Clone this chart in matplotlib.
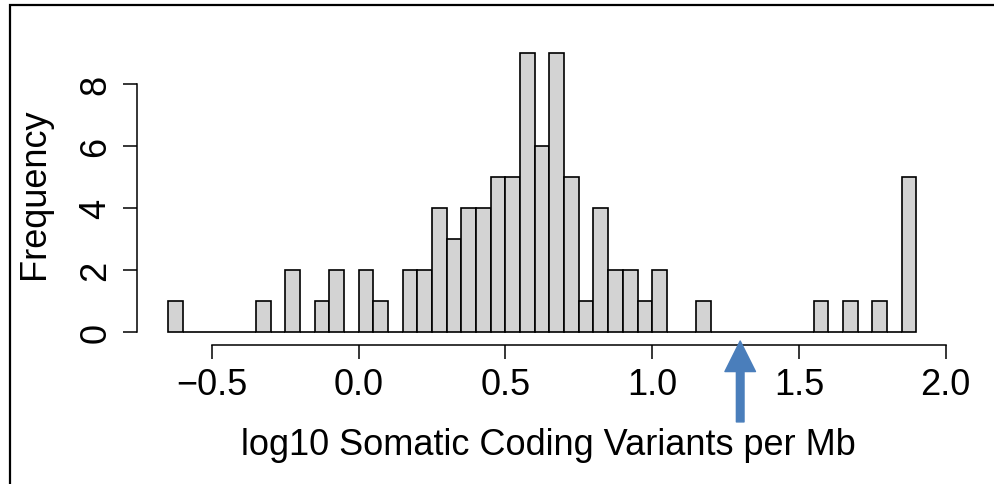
import matplotlib.pyplot as plt
from matplotlib.patches import Rectangle
import numpy as np

plt.rcParams.update({
    "font.family": ["Liberation Sans", "DejaVu Sans"],
    "font.size": 26,
})

# histogram bins (width 0.05) and counts
bin_start = -0.65
bin_width = 0.05
counts = [1, 0, 0, 0, 0, 0, 1, 0, 2, 0,
          1, 2, 0, 2, 1, 0, 2, 2, 4, 3,
          4, 4, 5, 5, 9, 6, 9, 5, 1, 4,
          2, 2, 1, 2, 0, 0, 1, 0, 0, 0,
          0, 0, 0, 0, 1, 0, 1, 0, 1, 0,
          5]
edges = bin_start + bin_width * np.arange(len(counts) + 1)

xticks = [-0.5, 0.0, 0.5, 1.0, 1.5, 2.0]
yticks = [0, 2, 4, 6, 8]
marker_x = 1.30

W, H = 994, 485
fig = plt.figure(figsize=(W / 100, H / 100), dpi=100)

# outer frame
fig.patches.append(Rectangle((10 / W, -0.05), 1.1, 1 - 6 / H + 0.05,
                             transform=fig.transFigure, fill=False,
                             edgecolor="black", linewidth=1.6))

ax = fig.add_axes([137 / W, (H - 346) / H, (960 - 137) / W, (346 - 85) / H])
bars = ax.bar(edges[:-1], counts, width=bin_width, align="edge",
              color="#d3d3d3", edgecolor="black", linewidth=1.2)
for b in bars:
    b.set_clip_on(False)

ax.set_xlim(-0.7556, 2.049)
ax.set_ylim(-0.419, 8)
for s in ["top", "right"]:
    ax.spines[s].set_visible(False)
ax.spines["left"].set_bounds(0, 8)
ax.spines["bottom"].set_bounds(-0.5, 2.0)
for s in ["left", "bottom"]:
    ax.spines[s].set_linewidth(1.1)

ax.set_xticks(xticks)
ax.set_xticklabels([f"{t:.1f}".replace("-", "\u2212") for t in xticks])
ax.set_yticks(yticks)
ax.set_yticklabels([str(t) for t in yticks], rotation=90, va="center")
ax.tick_params(direction="out", length=10, width=1.1, pad=6)
ax.tick_params(axis="y", pad=7)

ax.set_xlabel("log10 Somatic Coding Variants per Mb", labelpad=18)
ax.set_ylabel("Frequency", va="center")
ax.yaxis.set_label_coords(-0.124, 0.584)

# blue arrow marker
ax.annotate("", xy=(marker_x, -0.29), xytext=(marker_x, -2.9),
            xycoords="data", textcoords="data", annotation_clip=False,
            arrowprops=dict(arrowstyle="simple,head_length=2.2,head_width=2.2,tail_width=0.55",
                            mutation_scale=10, color="#4a7ebb",
                            shrinkA=0, shrinkB=0))

fig.savefig("out.png", dpi=100)
